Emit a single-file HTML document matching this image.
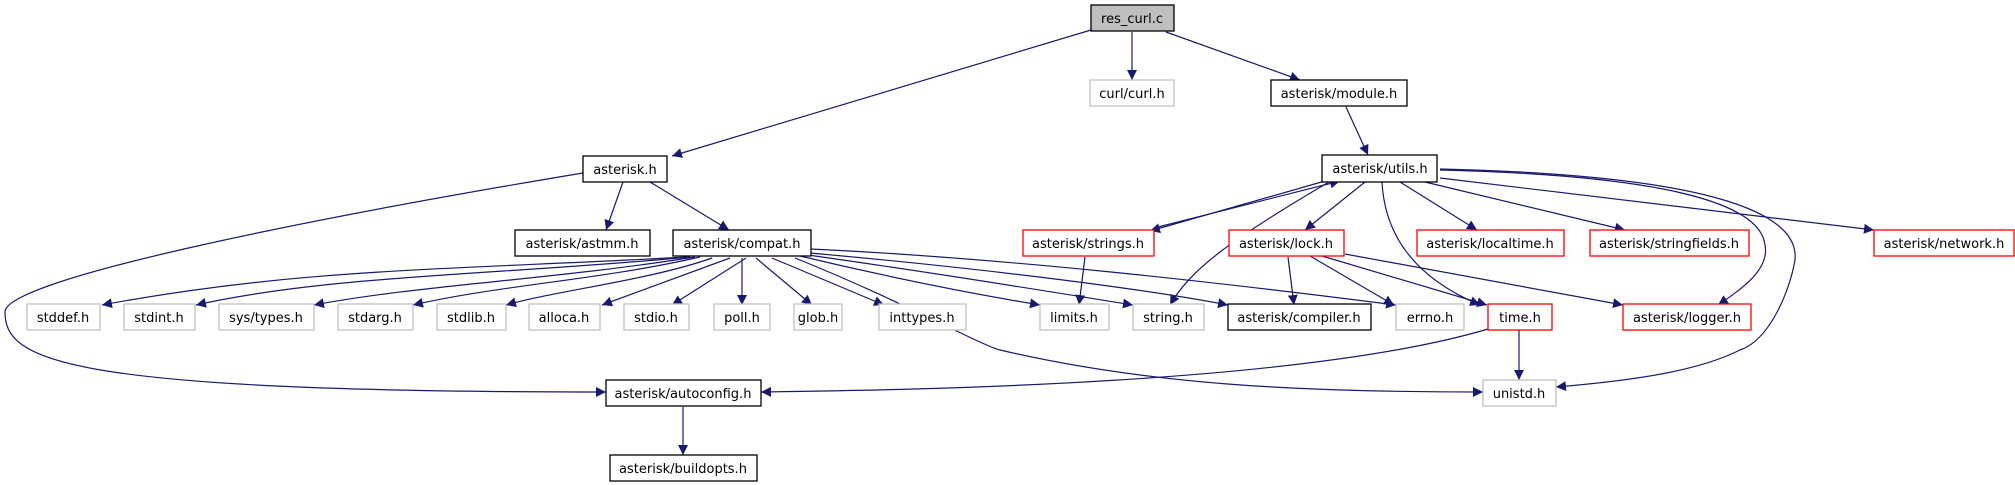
<!DOCTYPE html>
<html><head><meta charset="utf-8"><style>
html,body{margin:0;padding:0;background:#fff;}
svg{display:block}
text{font-family:"DejaVu Sans","Liberation Sans",sans-serif;font-size:13px;fill:#000}
</style></head><body>
<svg width="2015" height="485" viewBox="0 0 2015 485" xmlns="http://www.w3.org/2000/svg">
<defs>
<marker id="a" viewBox="0 0 10 10" refX="10" refY="5" markerWidth="10" markerHeight="10" markerUnits="userSpaceOnUse" orient="auto">
<path d="M0,0 L10,5 L0,10 z" fill="#191970"/>
</marker>
</defs>
<g fill="none" stroke="#191970" stroke-width="1.2" marker-end="url(#a)">
<path d="M1091,30 L672,156"/>
<path d="M1132,32 L1132,80"/>
<path d="M1166,32 L1300,80"/>
<path d="M1346,107 L1368,155"/>
<path d="M623,182 L606,230"/>
<path d="M650,182 L729,230"/>
<path d="M583,173 C300,220 5,280 5,312 C5,360 60,392 606,392"/>
<path d="M687,257 C450,270 300,268 102,305"/>
<path d="M690,257 C500,275 330,275 196,305"/>
<path d="M695,257 C550,280 420,285 314,305"/>
<path d="M700,257 C600,280 500,285 413,305"/>
<path d="M712,258 C650,280 560,290 506,305"/>
<path d="M730,258 L602,305"/>
<path d="M746,258 L672,305"/>
<path d="M742,258 L742,305"/>
<path d="M756,258 L812,305"/>
<path d="M772,258 L884,305"/>
<path d="M800,256 C900,280 980,295 1040,305"/>
<path d="M808,255 C950,275 1070,295 1133,305"/>
<path d="M810,253 C1000,270 1150,290 1228,305"/>
<path d="M811,249 C1000,258 1200,280 1396,305"/>
<path d="M795,258 C900,300 980,345 1000,350 C1150,385 1300,392 1483,392"/>
<path d="M1085,257 L1079,305"/>
<path d="M1325,181 L1150,231"/>
<path d="M1154,228 L1340,181"/>
<path d="M1329,182 C1230,240 1190,270 1170,305"/>
<path d="M1365,182 L1305,230"/>
<path d="M1382,182 C1385,240 1420,280 1480,305"/>
<path d="M1400,182 L1477,230"/>
<path d="M1425,182 L1625,230"/>
<path d="M1440,178 L1874,230"/>
<path d="M1440,170 C1650,175 1760,200 1765,245 C1770,270 1740,290 1718,305"/>
<path d="M1440,169 C1700,175 1800,210 1795,260 C1790,290 1770,340 1740,350 C1700,370 1640,380 1556,387"/>
<path d="M1288,257 L1294,305"/>
<path d="M1310,256 L1394,305"/>
<path d="M1322,256 L1487,305"/>
<path d="M1345,254 L1623,305"/>
<path d="M1519,330 L1519,380"/>
<path d="M1488,329 C1300,385 900,390 761,392"/>
<path d="M683,407 L683,455"/>
</g>
<g stroke-width="1.3" fill="#fff">
<rect x="1091" y="5" width="83" height="26" fill="#bfbfbf" stroke="#000"/>
<rect x="1090" y="80" width="84" height="26" stroke="#bfbfbf"/>
<rect x="1271" y="80" width="136" height="26" stroke="#000"/>
<rect x="583" y="156" width="84" height="26" stroke="#000"/>
<rect x="1322" y="155" width="115" height="27" stroke="#000"/>
<rect x="515" y="230" width="135" height="26" stroke="#000"/>
<rect x="673" y="230" width="138" height="26" stroke="#000"/>
<rect x="1023" y="230" width="131" height="26" stroke="#ff0000"/>
<rect x="1229" y="230" width="115" height="26" stroke="#ff0000"/>
<rect x="1417" y="230" width="147" height="26" stroke="#ff0000"/>
<rect x="1590" y="230" width="159" height="26" stroke="#ff0000"/>
<rect x="1874" y="230" width="140" height="26" stroke="#ff0000"/>
<g stroke="#bfbfbf">
<rect x="27" y="304" width="73" height="26"/>
<rect x="124" y="304" width="71" height="26"/>
<rect x="219" y="304" width="95" height="26"/>
<rect x="338" y="304" width="75" height="26"/>
<rect x="437" y="304" width="69" height="26"/>
<rect x="529" y="304" width="71" height="26"/>
<rect x="624" y="304" width="65" height="26"/>
<rect x="714" y="304" width="56" height="26"/>
<rect x="794" y="304" width="48" height="26"/>
<rect x="879" y="304" width="87" height="26"/>
<rect x="1040" y="304" width="69" height="26"/>
<rect x="1133" y="304" width="71" height="26"/>
<rect x="1396" y="304" width="68" height="26"/>
<rect x="1483" y="380" width="73" height="26"/>
</g>
<rect x="1228" y="304" width="143" height="26" stroke="#000"/>
<rect x="1488" y="304" width="64" height="26" stroke="#ff0000"/>
<rect x="1623" y="304" width="128" height="26" stroke="#ff0000"/>
<rect x="606" y="380" width="155" height="26" stroke="#000"/>
<rect x="610" y="455" width="147" height="26" stroke="#000"/>
</g>
<g text-anchor="middle">
<text x="1132" y="23">res_curl.c</text>
<text x="1132" y="98" fill="#000">curl/curl.h</text>
<text x="1339" y="98">asterisk/module.h</text>
<text x="625" y="174">asterisk.h</text>
<text x="1380" y="173">asterisk/utils.h</text>
<text x="582" y="248">asterisk/astmm.h</text>
<text x="742" y="248">asterisk/compat.h</text>
<text x="1088" y="248">asterisk/strings.h</text>
<text x="1286" y="248">asterisk/lock.h</text>
<text x="1490" y="248">asterisk/localtime.h</text>
<text x="1669" y="248">asterisk/stringfields.h</text>
<text x="1944" y="248">asterisk/network.h</text>
<text x="63" y="322">stddef.h</text>
<text x="159" y="322">stdint.h</text>
<text x="266" y="322">sys/types.h</text>
<text x="375" y="322">stdarg.h</text>
<text x="471" y="322">stdlib.h</text>
<text x="564" y="322">alloca.h</text>
<text x="656" y="322">stdio.h</text>
<text x="742" y="322">poll.h</text>
<text x="818" y="322">glob.h</text>
<text x="922" y="322">inttypes.h</text>
<text x="1074" y="322">limits.h</text>
<text x="1168" y="322">string.h</text>
<text x="1299" y="322">asterisk/compiler.h</text>
<text x="1430" y="322">errno.h</text>
<text x="1520" y="322">time.h</text>
<text x="1687" y="322">asterisk/logger.h</text>
<text x="1519" y="398">unistd.h</text>
<text x="683" y="398">asterisk/autoconfig.h</text>
<text x="683" y="473">asterisk/buildopts.h</text>
</g>
</svg>
</body></html>
